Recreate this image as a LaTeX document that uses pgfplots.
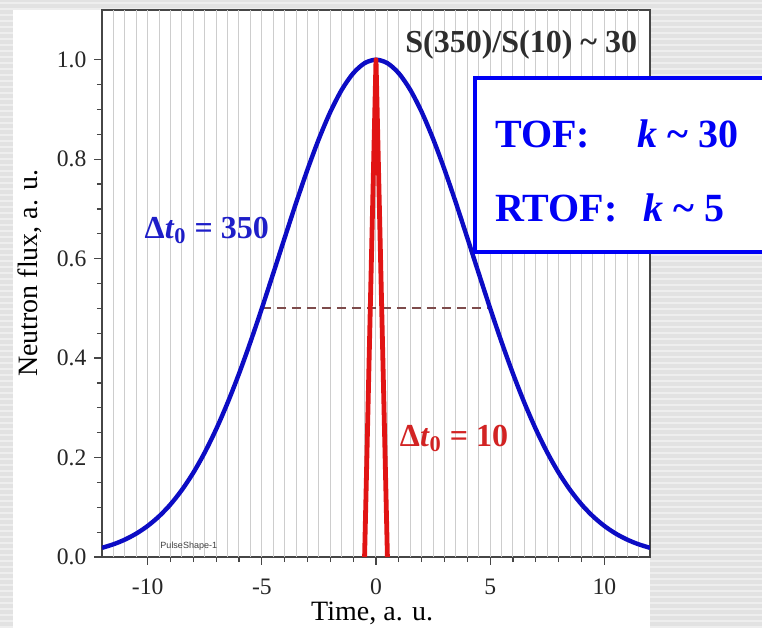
\documentclass[border=0pt]{standalone}
\usepackage{pgfplots}
\pgfplotsset{compat=1.18}
\usepackage{fontspec}
\setmainfont{Liberation Serif}
\newfontfamily\sansf{Liberation Sans}
\definecolor{curveblue}{RGB}{12,12,196}
\definecolor{spikered}{RGB}{225,20,20}
\definecolor{labred}{RGB}{210,35,35}
\definecolor{labblue}{RGB}{30,30,200}
\definecolor{boxblue}{RGB}{0,0,245}
\definecolor{dashbrown}{RGB}{125,75,75}
\definecolor{bggray}{RGB}{226,226,226}
\definecolor{bgstripe}{RGB}{238,238,238}
\definecolor{axgray}{RGB}{70,70,70}
\definecolor{gridgray}{RGB}{205,205,205}
\definecolor{labgray}{RGB}{45,45,45}

\pgfplotstableread{
x y
-12 0.01845
-11.5 0.02557
-11 0.03493
-10.5 0.04706
-10 0.06250
-9.5 0.08190
-9 0.10584
-8.5 0.13494
-8 0.16957
-7.5 0.21022
-7 0.25705
-6.5 0.30995
-6 0.36858
-5.5 0.43226
-5 0.50000
-4.5 0.57038
-4 0.64171
-3.5 0.71202
-3 0.77916
-2.5 0.84090
-2 0.89503
-1.5 0.93952
-1 0.97265
-0.5 0.99309
0 1.00000
0.5 0.99309
1 0.97265
1.5 0.93952
2 0.89503
2.5 0.84090
3 0.77916
3.5 0.71202
4 0.64171
4.5 0.57038
5 0.50000
5.5 0.43226
6 0.36858
6.5 0.30995
7 0.25705
7.5 0.21022
8 0.16957
8.5 0.13494
9 0.10584
9.5 0.08190
10 0.06250
10.5 0.04706
11 0.03493
11.5 0.02557
12 0.01845
}\wide

\begin{document}
\begin{tikzpicture}
\useasboundingbox (0,0) rectangle (381pt,314pt);
\fill[bggray] (0,0) rectangle (381pt,314pt);
\foreach \i in {0,...,104} {\fill[bgstripe] (0,\i*3pt) rectangle (381pt,\i*3pt+1.2pt);}
\fill[white] (6.5pt,0) rectangle (325pt,309pt);
\begin{axis}[
  at={(51pt,35.5pt)}, anchor=south west,
  scale only axis, width=274pt, height=273.5pt,
  xmin=-12, xmax=12, ymin=0, ymax=1.1,
  axis line style={axgray, line width=0.75pt},
  tick style={axgray, line width=0.6pt},
  tick align=outside, tick pos=left,
  major tick length=3.8pt, minor tick length=2.5pt,
  xtick={-10,-5,0,5,10}, minor x tick num=4,
  ytick={0,0.2,0.4,0.6,0.8,1.0}, minor y tick num=3,
  extra x ticks={-11.5,-11,...,11.5},
  extra x tick labels={},
  extra x tick style={grid=major, major tick length=0pt, major grid style={gridgray, line width=0.5pt}},
  yticklabel style={xshift=-0.5pt, /pgf/number format/.cd, fixed, fixed zerofill, precision=1},
  xticklabel style={yshift=-3.5pt},
  /pgf/number format/assume math mode=true,
  tick label style={font=\fontsize{11.8}{13}\selectfont, text=black!85},
  label style={font=\fontsize{14}{16}\selectfont},
  xlabel={Time, a. u.},
  ylabel={Neutron flux, a. u.},
  xlabel style={at={(axis description cs:0.493,-0.1152)}, anchor=base},
  ylabel style={at={(axis description cs:-0.131,0.519)}, anchor=center, rotate=0},
]
\addplot[dashbrown, line width=1.1pt, dash pattern=on 4.5pt off 3pt] coordinates {(-5,0.5) (5,0.5)};
\addplot[curveblue, line width=2.2pt, smooth] table[x=x,y=y] {\wide};
\addplot[spikered, line width=2.4pt, line join=round] coordinates {(-0.5,0) (0,1) (0.5,0)};
\node[font=\bfseries\fontsize{16}{18}\selectfont, text=labgray] at (axis cs:6.36,1.03) {S(350)/S(10) \textasciitilde{} 30};
\node[font=\bfseries\fontsize{16}{18}\selectfont, text=labblue] at (axis cs:-7.41,0.657) {Δ\textit{t}\textsubscript{0} = 350};
\node[font=\bfseries\fontsize{16}{18}\selectfont, text=labred] at (axis cs:3.42,0.238) {Δ\textit{t}\textsubscript{0} = 10};
\node[font=\sansf\fontsize{4.5}{5}\selectfont, text=black!75] at (axis cs:-8.2,0.022) {PulseShape-1};
\end{axis}
\fill[white] (237.5pt,188pt) rectangle (384pt,275pt);
\draw[boxblue, line width=1.6pt] (384pt,188pt) -- (237.5pt,188pt) -- (237.5pt,275pt) -- (384pt,275pt);
\node[anchor=base west, inner sep=0pt, font=\bfseries\fontsize{20}{24}\selectfont, text=boxblue] at (247.5pt,240pt) {TOF:};
\node[anchor=base west, inner sep=0pt, font=\bfseries\fontsize{20}{24}\selectfont, text=boxblue] at (318.5pt,240pt) {\textit{k} \textasciitilde{} 30};
\node[anchor=base west, inner sep=0pt, font=\bfseries\fontsize{20}{24}\selectfont, text=boxblue] at (247.5pt,203pt) {RTOF:};
\node[anchor=base west, inner sep=0pt, font=\bfseries\fontsize{20}{24}\selectfont, text=boxblue] at (321.5pt,203pt) {\textit{k} \textasciitilde{} 5};
\end{tikzpicture}
\end{document}
